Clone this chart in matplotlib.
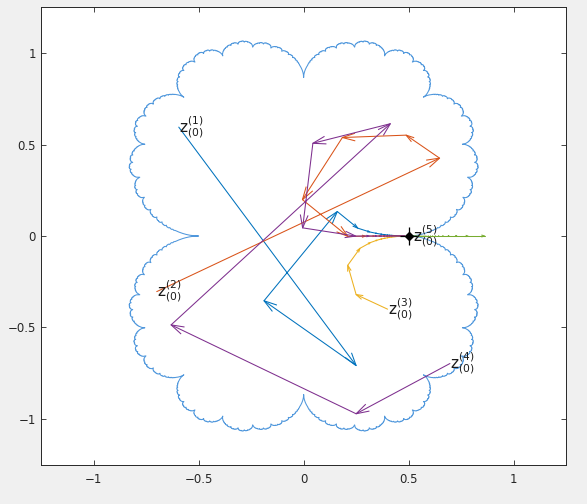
import numpy as np
import matplotlib
matplotlib.use("Agg")
import matplotlib.pyplot as plt
from matplotlib.collections import LineCollection

# quadratic map f(z) = z^2 + c
c_param = 0.25
n_iter = 50

# starting points of the five orbits
start_points = [-0.595 + 0.595j, -0.700 - 0.304j, 0.400 - 0.400j,
                0.697 - 0.697j, 0.520 + 0.000j]
orbit_colors = ['#0072BD', '#D95319', '#EDB120', '#7E2F8E', '#77AC30']
orbit_labels = [r'$\mathregular{z^{(%d)}_{(0)}}$' % k for k in range(1, 6)]
fixed_point = 0.5 + 0.0j

x_ticks = [-1, -0.5, 0, 0.5, 1]
y_ticks = [-1, -0.5, 0, 0.5, 1]
x_tick_labels = ['\u22121', '\u22120.5', '0', '0.5', '1']
y_tick_labels = ['\u22121', '\u22120.5', '0', '0.5', '1']
x_limits = (-1.25, 1.25)
y_limits = (-1.25, 1.25)

boundary_color = '#4f97dc'
axis_color = '#262626'


def julia_boundary(c, n_uniform=2 ** 14, deep=52, tail_steps=2000):
    """Points of the Julia set ordered by external angle."""
    base = np.arange(n_uniform) / n_uniform
    extra = []
    for n in range(0, 5):
        for j in range(2 ** n):
            t0 = j / 2 ** n
            for m in range(15, deep):
                extra += [t0 + 2.0 ** -m, t0 - 2.0 ** -m]
    th = np.unique(np.concatenate([base, np.array(extra)]) % 1.0)
    doubled = np.empty((deep + 1, th.size))
    t = th.copy()
    for k in range(deep + 1):
        doubled[k] = t
        t = (2.0 * t) % 1.0
    # landing of the angle-0 ray, approached along the real axis
    x = 1e6
    for _ in range(tail_steps):
        x = np.sqrt(x - c)
    z = np.full(th.size, x, dtype=complex)
    for k in range(deep, -1, -1):
        w = np.sqrt(z - c)
        upper = doubled[k] < 0.5
        flip = upper != (w.imag >= 0)
        w[flip] = -w[flip]
        z = w
    return np.append(z, z[0])


def orbit(z0, c, n):
    pts = [z0]
    for _ in range(n):
        pts.append(pts[-1] ** 2 + c)
    return np.array(pts)


def draw_arrows(ax, pts, color, lw):
    ax.plot(pts.real, pts.imag, color=color, lw=lw, solid_capstyle='round')
    disp = ax.transData.transform(np.column_stack([pts.real, pts.imag]))
    inv = ax.transData.inverted()
    segs = []
    for p, q in zip(disp[:-1], disp[1:]):
        d = q - p
        L = np.hypot(d[0], d[1])
        if L < 1e-9:
            continue
        u = d / L
        nrm = np.array([-u[1], u[0]])
        h = min(0.2 * L, 13.0)
        w = 0.3 * h
        b1 = q - h * u + w * nrm
        b2 = q - h * u - w * nrm
        segs.append(inv.transform(np.array([b1, q, b2])))
    ax.add_collection(LineCollection(segs, colors=color, linewidths=lw))


W, H = 587, 504
fig = plt.figure(figsize=(W / 100, H / 100), dpi=100, facecolor='#f0f0f0')
ax = fig.add_axes([41.3 / W, 1 - 464.7 / H, (566 - 41.3) / W, (464.7 - 7.3) / H])
ax.set_facecolor('white')
ax.set_xlim(*x_limits)
ax.set_ylim(*y_limits)

ax.set_xticks(x_ticks)
ax.set_xticklabels(x_tick_labels)
ax.set_yticks(y_ticks)
ax.set_yticklabels(y_tick_labels)
ax.tick_params(direction='in', length=3.3, width=0.6, colors=axis_color,
               labelsize=8.5, top=True, right=True)
ax.tick_params(axis='x', pad=6)
ax.tick_params(axis='y', pad=4)
for s in ax.spines.values():
    s.set_color(axis_color)
    s.set_linewidth(0.7)

# Julia set boundary
J = julia_boundary(c_param)
ax.plot(J.real, J.imag, color=boundary_color, lw=0.75)

# orbits with arrows
for z0, col in zip(start_points, orbit_colors):
    pts = orbit(z0, c_param, n_iter)
    draw_arrows(ax, pts, col, 0.75)

# parabolic fixed point
ax.plot([fixed_point.real], [fixed_point.imag], marker='+', ms=13, mew=0.9,
        color='black', ls='none')
ax.plot([fixed_point.real], [fixed_point.imag], marker='D', ms=4.5,
        color='black', ls='none')

# labels at the starting points
for z0, lab in zip(start_points, orbit_labels):
    ax.text(z0.real, z0.imag, lab, ha='left', va='center', fontsize=11,
            color='#1a1a1a')

fig.savefig('out.png', dpi=100, facecolor=fig.get_facecolor())
